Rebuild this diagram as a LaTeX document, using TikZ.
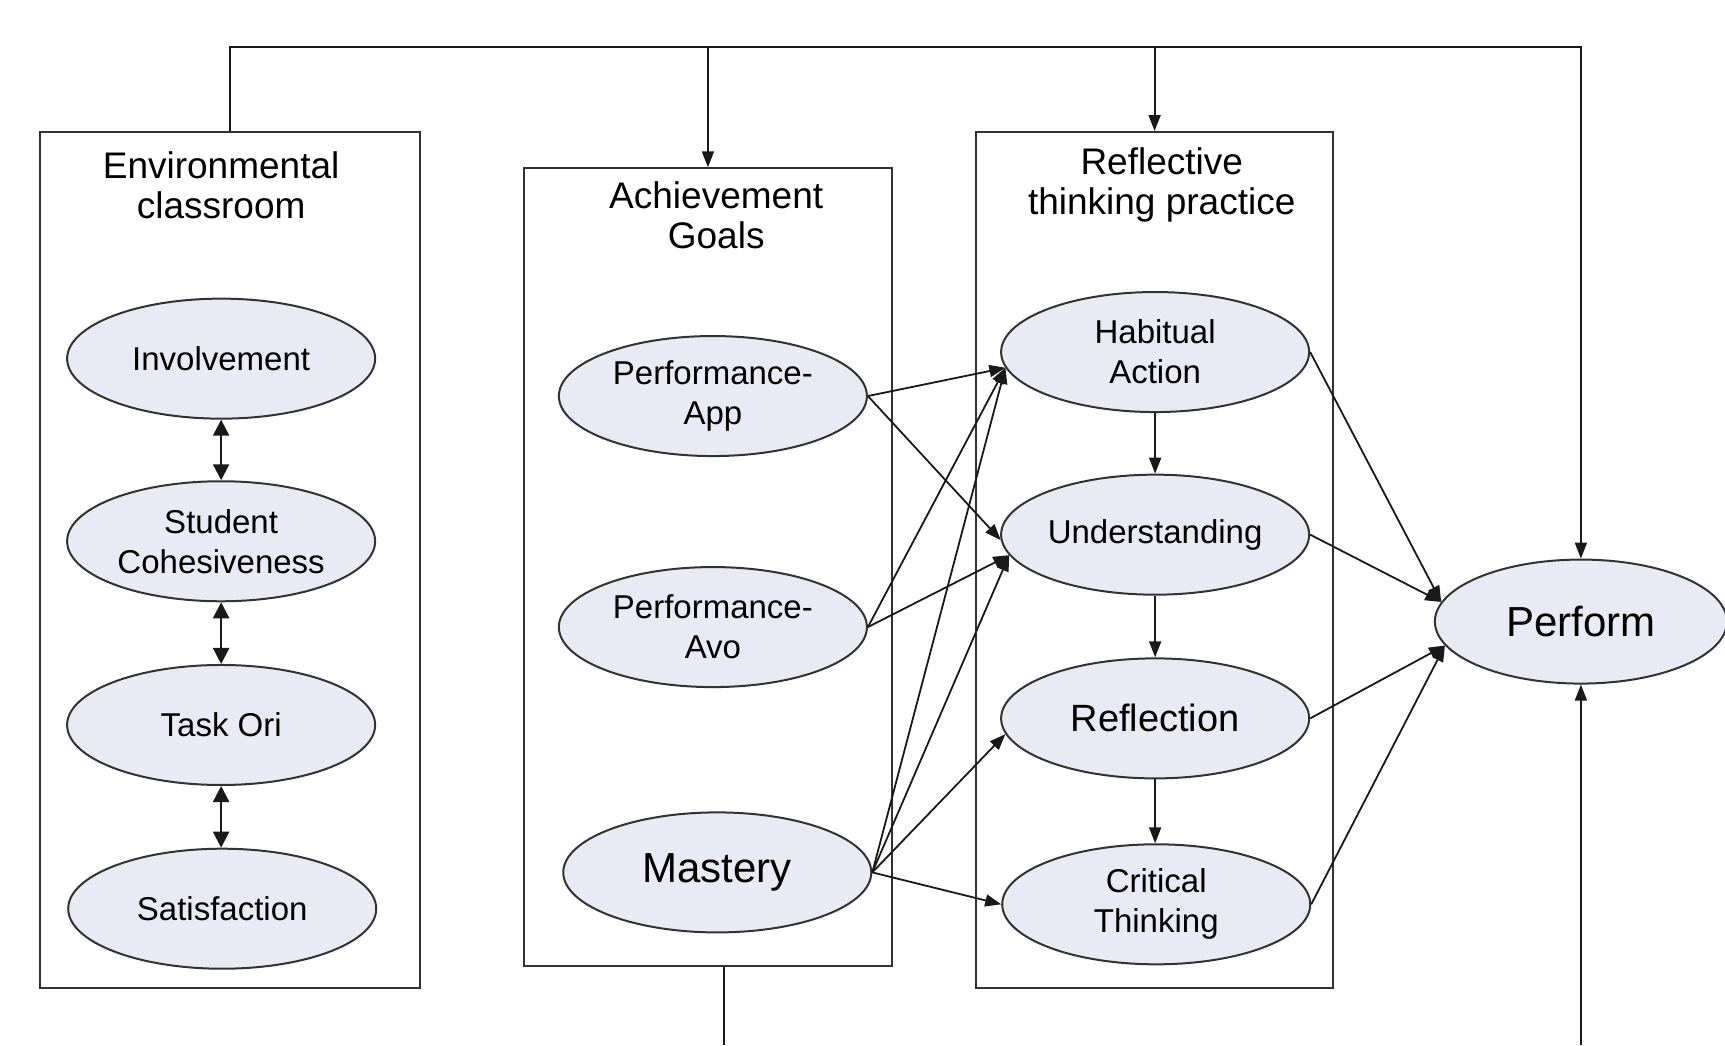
\documentclass[tikz,border=0pt]{standalone}
\usepackage{fontspec}
\setmainfont{Liberation Sans}
\usetikzlibrary{shapes.geometric,arrows.meta,fit}
\definecolor{ovalfill}{RGB}{234,234,244}
\definecolor{inkgray}{RGB}{50,50,50}

\begin{document}
\begin{tikzpicture}[x=0.55pt,y=-0.55pt,
	oval/.style={ellipse, draw=inkgray, line width=1pt, fill=ovalfill, minimum width=154pt, minimum height=60pt, inner sep=0pt, align=center, font=\fontsize{16.5}{20}\selectfont},
	bigoval/.style={oval, font=\fontsize{21}{24}\selectfont},
	grp/.style={draw=inkgray, line width=1pt, inner sep=0pt},
	grptitle/.style={align=center, font=\fontsize{18.5}{20}\selectfont},
	link/.style={draw=black!90, line width=0.9pt},
	arr/.style={link, arrows={-Triangle[length=8pt,width=6pt]}},
	twoway/.style={link, line width=1.1pt, arrows={Triangle[length=8pt,width=8pt]-Triangle[length=8pt,width=8pt]}}]
	\useasboundingbox (0,0) rectangle (1568,950);
	% group boxes
	\node [grp, fit={(36,120) (382,898)}] (envbox) {};
	\node [grp, fit={(476,153) (811,878)}] (achbox) {};
	\node [grp, fit={(887,120) (1212,898)}] (reflbox) {};
	\node [grptitle] (envtitle) at (201,168) {Environmental\\classroom};
	\node [grptitle] (achtitle) at (651,196) {Achievement\\Goals};
	\node [grptitle] (refltitle) at (1056,168) {Reflective\\thinking practice};

	% environment
	\node [oval] (inv) at (201,326) {Involvement};
	\node [oval] (stc) at (201,492) {Student\\Cohesiveness};
	\node [oval] (task) at (201,659) {Task Ori};
	\node [oval] (sat) at (202,826) {Satisfaction};
	\draw [twoway] (inv.south) -- (stc.north);
	\draw [twoway] (stc.south) -- (task.north);
	\draw [twoway] (task.south) -- (task.south |- sat.north);

	% goals
	\node [oval] (papp) at (648,360) {Performance-\\App};
	\node [oval] (pavo) at (648,570) {Performance-\\Avo};
	\node [bigoval] (mast) at (652,793) {Mastery};

	% reflective thinking
	\node [oval] (habit) at (1050,320) {Habitual\\Action};
	\node [oval] (under) at (1050,486) {Understanding};
	\node [oval, font=\fontsize{19}{20}\selectfont] (refl) at (1050,653) {Reflection};
	\node [oval] (crit) at (1051,822) {Critical\\Thinking};
	\draw [arr] (habit.south) -- (under.north);
	\draw [arr] (under.south) -- (refl.north);
	\draw [arr] (refl.south) -- (refl.south |- crit.north);

	\node [bigoval, minimum width=146pt, minimum height=62pt] (perf) at (1437,565) {Perform};

	% goals -> reflective
	\draw [arr] (papp.east) -- (habit.186);
	\draw [arr] (papp.east) -- (under.182);
	\draw [arr] (pavo.east) -- (habit.186);
	\draw [arr] (pavo.east) -- (under.188);
	\draw [arr] (mast.east) -- (habit.186);
	\draw [arr] (mast.east) -- (under.188);
	\draw [arr] (mast.east) -- (refl.186);
	\draw [arr] (mast.east) -- (crit.west);

	% reflective -> perform
	\draw [arr] (habit.east) -- (perf.172);
	\draw [arr] (under.east) -- (perf.172);
	\draw [arr] (refl.east) -- (perf.190);
	\draw [arr] (crit.east) -- (perf.190);

	% loops along top and bottom
	\coordinate (top) at (208,43);
	\coordinate (bottom) at (658,950);
	\draw [arr] (envbox.north) -- (envbox.north |- top) -| (perf.north);
	\draw [arr] (achbox.north |- top) -- (achbox.north);
	\draw [arr] (reflbox.north |- top) -- (reflbox.north);
	\draw [link] (achbox.south -| bottom) -- (bottom);
	\draw [arr] (perf.south |- bottom) -- (perf.south);
\end{tikzpicture}
\end{document}
